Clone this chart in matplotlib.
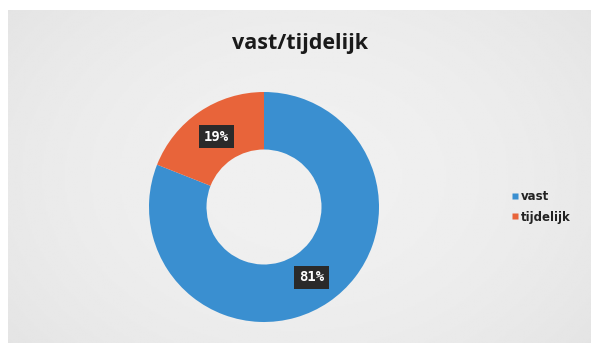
import numpy as np
from matplotlib import pyplot as plt
from matplotlib.lines import Line2D

# Data
labels = ["vast", "tijdelijk"]
values = [81, 19]
colors = ["#3a8fd0", "#e8643a"]

W, H = 591, 355
fig = plt.figure(figsize=(W/100, H/100), dpi=100)
fig.patch.set_facecolor("white")

# gray background panel with soft gradient
bg = fig.add_axes([8/W, 12/H, 1 - 8/W, 333/H])
yy, xx = np.mgrid[-1:1:200j, -1:1:300j]
grad = 1 - 0.25*(xx**2 + 0.6*yy**2)
bg.imshow(grad, cmap="gray", vmin=-7, vmax=1.5, aspect="auto",
          extent=[0, 1, 0, 1])
bg.set_axis_off()

fig.text(300/W, 1 - 44/H, "vast/tijdelijk", ha="center", va="center",
         fontsize=15.5, fontweight="bold", color="#1a1a1a", family="Open Sans")

# donut
r = 115
cx, cy = 264, 207
ax = fig.add_axes([(cx - r)/W, (H - cy - r)/H, 2*r/W, 2*r/H])
wedges, texts, autotexts = ax.pie(values, colors=colors, startangle=90,
                                  counterclock=False, radius=1,
                                  wedgeprops=dict(width=0.50, edgecolor="none"),
                                  autopct="%d%%", pctdistance=0.74)
for t in autotexts:
    t.set_color("white")
    t.set_fontsize(10)
    t.set_fontweight("bold")
    t.set_family("DejaVu Sans Mono")
    t.set_bbox(dict(facecolor="#2a2a2a", edgecolor="none", pad=3.5))
ax.set_xlim(-1, 1)
ax.set_ylim(-1, 1)
ax.set_aspect("equal")
ax.set_axis_off()

handles = [Line2D([], [], marker="s", linestyle="none", markersize=5,
                  markerfacecolor=c, markeredgecolor="none") for c in colors]
leg = fig.legend(handles, labels, loc="center left",
                 bbox_to_anchor=(500/W, 1 - 207/H), frameon=False,
                 fontsize=8.5, handletextpad=0.1, labelspacing=0.6,
                 handlelength=0.8)
for t in leg.get_texts():
    t.set_fontweight("bold")
    t.set_color("#222222")

plt.savefig("out.png", dpi=100)
